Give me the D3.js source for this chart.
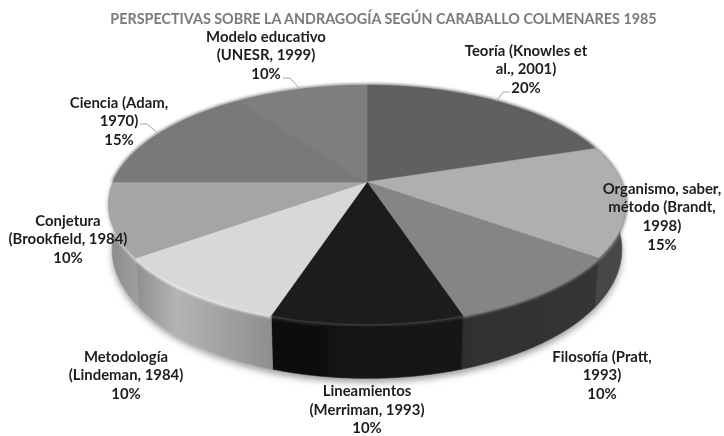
<!DOCTYPE html>
<html><head><meta charset="utf-8">
<script src="https://cdn.jsdelivr.net/npm/d3@7"></script>
<style>html,body{margin:0;background:#fff}svg{display:block}</style></head>
<body><svg id="c" width="724" height="436"></svg>
<script>
const titleText = "PERSPECTIVAS SOBRE LA ANDRAGOGÍA SEGÚN CARABALLO COLMENARES 1985";
const categories = ["Teoría (Knowles et al., 2001)","Organismo, saber, método (Brandt, 1998)","Filosofía (Pratt, 1993)","Lineamientos (Merriman, 1993)","Metodología (Lindeman, 1984)","Conjetura (Brookfield, 1984)","Ciencia (Adam, 1970)","Modelo educativo (UNESR, 1999)"];
const values = [20,15,10,10,10,10,15,10];
const labelLines = [["Teoría (Knowles et","al., 2001)","20%"],["Organismo, saber,","método (Brandt,","1998)","15%"],["Filosofía (Pratt,","1993)","10%"],["Lineamientos","(Merriman, 1993)","10%"],["Metodología","(Lindeman, 1984)","10%"],["Conjetura","(Brookfield, 1984)","10%"],["Ciencia (Adam,","1970)","15%"],["Modelo educativo","(UNESR, 1999)","10%"]];
const labelX = [526,662,602,367,126,68,119,266];
const labelY = [51,189,357,391.5,357,221,103,37];
const leaderIdx = [0,6,7];
const leaderEnd = [[510,92],[140,124],[283,78]];
const topColors = ["#606060","#afafaf","#858585","#1f1f1f","#d8d8d8","#a5a5a5","#797979","#7e7e7e"];
const wallStops = [["#3a3a3a","#3a3a3a"],["#454545","#484848"],["#2f2f2f","#363636"],["#0f0f0f","#171717"],["#b4b4b4","#8e8e8e"],["#8a8a8a","#a0a0a0"],["#555","#555"],["#555","#555"]];
const rimColors = ["#777","#8a8a8a","#9a9a9a","#4a4a4a","#ffffff","#d8d8d8","#888","#888"];

const svg = d3.select("#c");
const defs = svg.append("defs");
defs.append("filter").attr("id","sh").attr("x","-10%").attr("y","-10%").attr("width","120%").attr("height","130%").append("feGaussianBlur").attr("stdDeviation",3.5);
defs.append("filter").attr("id","rim").attr("x","-20%").attr("y","-20%").attr("width","140%").attr("height","140%").append("feGaussianBlur").attr("stdDeviation",1.4);
defs.append("filter").attr("id","soft").attr("x","-5%").attr("y","-5%").attr("width","110%").attr("height","110%").append("feGaussianBlur").attr("stdDeviation",0.4);
defs.append("filter").attr("id","softM").append("feGaussianBlur").attr("stdDeviation",0.6);

const P = 0.19;
const sx = d3.scaleLinear().domain([-1,1]).range([367-254,367+254]);
const sy = d3.scaleLinear().domain([-1,1]).range([182+115,182-115]);
const sxB = d3.scaleLinear().domain([-1,1]).range([367-250.2,367+250.2]);
const syB = d3.scaleLinear().domain([-1,1]).range([225+124.2,225-124.2]);
const proj = (a,xs,ys)=>{const k=1+P*Math.cos(a);return [xs(Math.sin(a)/k),ys(Math.cos(a)/k)];};
const topPt = a=>proj(a,sx,sy), botPt = a=>proj(a,sxB,syB);
const arcPts = (a0,a1,f)=>d3.range(0,61).map(i=>f(a0+(a1-a0)*i/60));
const line = d3.line();
const arcs = d3.pie().sort(null)(values);
const g = svg.append("g").attr("filter","url(#softM)");

g.append("path").attr("d",line(arcPts(0,2*Math.PI,botPt))+"Z").attr("transform","translate(0,4)").attr("fill","#9a9a9a").attr("filter","url(#sh)");

arcs.forEach((d,i)=>{
  const t=arcPts(d.startAngle,d.endAngle,topPt), b=arcPts(d.startAngle,d.endAngle,botPt).reverse();
  const all=t.concat(b), ext=d3.extent(all,p=>p[0]);
  const id="w"+i;
  const lg=defs.append("linearGradient").attr("id",id).attr("gradientUnits","userSpaceOnUse").attr("x1",ext[0]).attr("x2",ext[1]).attr("y1",0).attr("y2",0);
  lg.append("stop").attr("offset",0).attr("stop-color",i===4?"#8e8e8e":wallStops[i][0]);
  if(i===4) lg.append("stop").attr("offset",0.3).attr("stop-color",wallStops[i][0]);
  lg.append("stop").attr("offset",1).attr("stop-color",wallStops[i][1]);
  g.append("path").datum(d).attr("d",line(all)+"Z").attr("fill",`url(#${id})`).attr("stroke",`url(#${id})`).attr("stroke-width",0.6);
});
arcs.forEach((d,i)=>{
  g.append("path").attr("d",line(arcPts(d.startAngle,d.endAngle,topPt))).attr("fill","none").attr("stroke",rimColors[i]).attr("stroke-width",3.5).attr("filter","url(#rim)");
});
const c0=[sx(0),sy(0)];
arcs.forEach((d,i)=>{
  g.append("path").datum(d).attr("d",line([c0].concat(arcPts(d.startAngle,d.endAngle,topPt)))+"Z").attr("fill",topColors[i]).attr("stroke",topColors[i]).attr("stroke-width",0.5);
});
leaderIdx.forEach((idx,k)=>{
  const d=arcs[idx], p=topPt((d.startAngle+d.endAngle)/2), e=leaderEnd[k];
  const dir=e[0]<p[0]?1:-1;
  svg.append("path").attr("d",line([e,[e[0]+dir*7,e[1]],p])).attr("fill","none").attr("stroke","#a6a6a6").attr("stroke-width",1);
});
const txt = svg.append("g").attr("filter","url(#soft)").attr("font-family","Lato, Carlito, sans-serif").attr("font-weight",700).attr("text-anchor","middle");
txt.append("text").attr("x",383.5).attr("y",24).attr("font-size",14.35).attr("fill","#7a7a7a").text(titleText);
labelLines.forEach((ls,i)=>{
  ls.forEach((s,j)=>{
    txt.append("text").attr("x",labelX[i]).attr("y",labelY[i]+j*18.7+4.5).attr("font-size",14.9).attr("fill","#1f1f1f").text(s);
  });
});
</script></body></html>
